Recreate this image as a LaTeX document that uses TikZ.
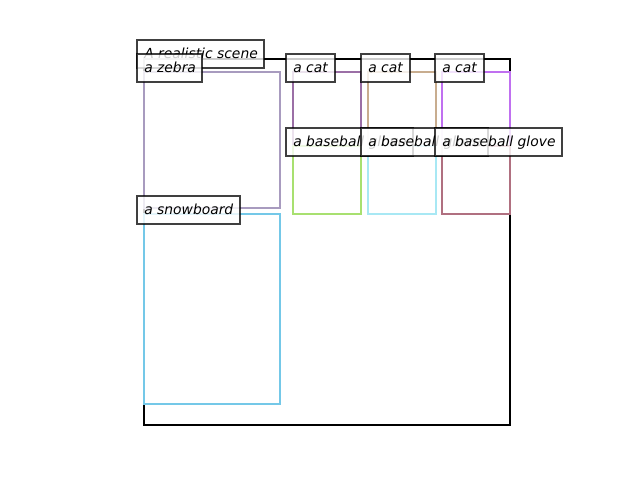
\documentclass[tikz,border=0pt]{standalone}
\usepackage{fontspec}
\setmainfont{DejaVu Sans}
\newfontfamily\lblfamily{DejaVu Sans}
\newcommand\lblfont{\lblfamily\itshape\fontsize{10.4pt}{12pt}\selectfont}
\definecolor{czebra}{HTML}{A89BBF}
\definecolor{csnow}{HTML}{74C8E8}
\definecolor{ccatA}{HTML}{9B6FA6}
\definecolor{ccatB}{HTML}{C8AD8F}
\definecolor{ccatC}{HTML}{C070F0}
\definecolor{cgloveA}{HTML}{A8E070}
\definecolor{cgloveB}{HTML}{A8E8F4}
\definecolor{cgloveC}{HTML}{B07080}
\tikzset{
  objbox/.style={line width=2.2pt},
  frame/.style={draw=black,line width=2.2pt},
  lblbox/.style={fill=white,fill opacity=0.8,draw=black,draw opacity=0.75,line width=0.8pt},
  lbltext/.style={anchor=base west,inner sep=0pt,font=\lblfont,text=black}
}
\newcommand\boxlabel[5]{%
  \draw[lblbox] (#2-7,#3-18) rectangle (#2-7+#4,#3+10);
  \node[lbltext] (#1) at (#2,#3) {#5};
}
\begin{document}
\begin{tikzpicture}[x=0.75pt,y=-0.75pt]
\useasboundingbox (0,0) rectangle (640,480);
% scene frame
\draw[frame] (144,59) rectangle (510,425);
% object boxes
\draw[objbox,draw=czebra] (144,72) rectangle (280,208);
\draw[objbox,draw=csnow] (144,214) rectangle (280,404);
\draw[objbox,draw=ccatA] (293,72) rectangle (361,146);
\draw[objbox,draw=cgloveA] (293,146) rectangle (361,214);
\draw[objbox,draw=ccatB] (368,72) rectangle (436,146);
\draw[objbox,draw=cgloveB] (368,146) rectangle (436,214);
\draw[objbox,draw=ccatC] (442,72) rectangle (510,146);
\draw[objbox,draw=cgloveC] (442,146) rectangle (510,214);
% labels
\boxlabel{scene}{144}{58}{127}{A realistic scene}
\boxlabel{zebra}{144}{72}{65}{a zebra}
\boxlabel{catA}{293}{72}{49}{a cat}
\boxlabel{gloveA}{293}{146}{127}{a baseball glove}
\boxlabel{catB}{368}{72}{49}{a cat}
\boxlabel{gloveB}{368}{146}{127}{a baseball glove}
\boxlabel{catC}{442}{72}{49}{a cat}
\boxlabel{gloveC}{442}{146}{127}{a baseball glove}
\boxlabel{snow}{144}{214}{103}{a snowboard}
\end{tikzpicture}
\end{document}
